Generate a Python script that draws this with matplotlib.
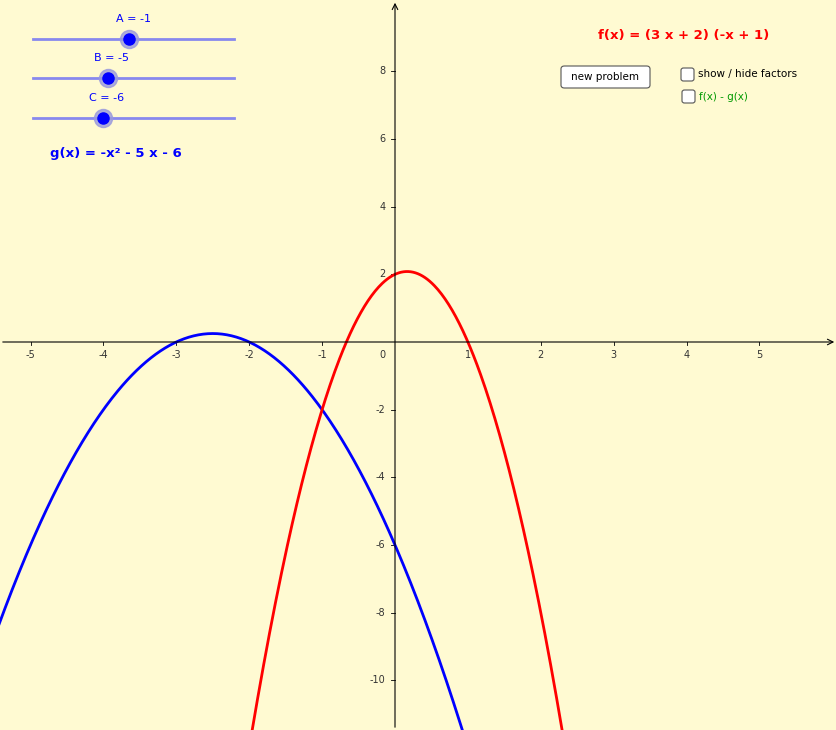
import numpy as np
import matplotlib
matplotlib.use("Agg")
import matplotlib.pyplot as plt
from matplotlib.patches import FancyBboxPatch

# Data: coefficients shown in the chart
f_factors = [(3, 2), (-1, 1)]          # f(x) = (3x+2)(-x+1)
g_coeffs = {"A": -1, "B": -5, "C": -6}  # g(x) = A x^2 + B x + C
x_ticks = [-5, -4, -3, -2, -1, 1, 2, 3, 4, 5]
y_ticks = [8, 6, 4, 2, -2, -4, -6, -8, -10]

W, H = 837, 730
fig = plt.figure(figsize=(W/100, H/100), dpi=100)
ax = fig.add_axes([0, 0, 1, 1])
bg = "#FFFAD2"
fig.patch.set_facecolor(bg); ax.set_facecolor(bg)
sx, sy = 72.9, 33.83
x0, y0 = 395, 342
ax.set_xlim(-x0/sx, (W-x0)/sx)
ax.set_ylim(-(H-y0)/sy, y0/sy)
ax.axis("off")

def P(x, y):
    return (x/W, 1-y/H)

xs = np.linspace(-6, 7, 800)
f = (f_factors[0][0]*xs+f_factors[0][1])*(f_factors[1][0]*xs+f_factors[1][1])
g = g_coeffs["A"]*xs**2 + g_coeffs["B"]*xs + g_coeffs["C"]
ax.plot(xs, g, color="#0000FF", lw=2.0, zorder=3)
ax.plot(xs, f, color="#FF0000", lw=2.0, zorder=3)

xl, yl = ax.get_xlim(), ax.get_ylim()
ax.annotate("", xy=(xl[1], 0), xytext=(xl[0], 0),
            arrowprops=dict(arrowstyle="->", color="black", lw=0.8))
ax.annotate("", xy=(0, yl[1]), xytext=(0, yl[0]),
            arrowprops=dict(arrowstyle="->", color="black", lw=0.8))
for t in x_ticks:
    ax.plot([t, t], [0, -0.08], color="black", lw=0.6)
    ax.text(t, -0.25, str(t), ha="center", va="top", fontsize=7, color="#333333")
ax.text(-0.13, -0.25, "0", ha="right", va="top", fontsize=7, color="#333333")
for t in y_ticks:
    ax.plot([0, -0.05], [t, t], color="black", lw=0.6)
    ax.text(-0.13, t, str(t), ha="right", va="center", fontsize=7, color="#333333")

sl = [("A = -1", 39, 129), ("B = -5", 78, 108), ("C = -6", 118, 103)]
for lab, yy, kx in sl:
    ax.plot([P(33, 0)[0], P(234, 0)[0]], [P(0, yy)[1]]*2, transform=ax.transAxes,
            color="#8888EE", lw=2)
    ax.plot(*P(kx, yy), "o", transform=ax.transAxes, ms=13, color="#9999DD", alpha=0.8)
    ax.plot(*P(kx, yy), "o", transform=ax.transAxes, ms=8, color="#0000FF")
    ax.text(*P(kx+4, yy-20), lab, transform=ax.transAxes, ha="center", va="center",
            fontsize=8, color="#0000FF")

ax.text(*P(116, 153), "g(x) = -x² - 5 x - 6", transform=ax.transAxes, ha="center",
        va="center", fontsize=9.5, fontweight="bold", color="#0000FF")
ax.text(*P(684, 35), "f(x) = (3 x + 2) (-x + 1)", transform=ax.transAxes, ha="center",
        va="center", fontsize=9.5, fontweight="bold", color="#FF0000")

bx, by = P(561, 88)
ax.add_patch(FancyBboxPatch((bx, by), 89/W, 22/H, boxstyle="round,pad=0,rounding_size=0.004",
             transform=ax.transAxes, facecolor="white", edgecolor="#555555", lw=0.8))
ax.text(*P(605, 77), "new problem", transform=ax.transAxes, ha="center", va="center",
        fontsize=7.5, color="black")
for (cx, cy, txt, col) in [(681, 81, "show / hide factors", "black"), (682, 103, "f(x) - g(x)", "#009900")]:
    ax.add_patch(FancyBboxPatch(P(cx, cy), 13/W, 13/H, boxstyle="round,pad=0,rounding_size=0.003",
                 transform=ax.transAxes, facecolor="white", edgecolor="#555555", lw=0.8))
    ax.text(*P(cx+17, cy-6.5), txt, transform=ax.transAxes, ha="left", va="center",
            fontsize=7.5, color=col)

fig.savefig("out.png", dpi=100, facecolor=bg)
